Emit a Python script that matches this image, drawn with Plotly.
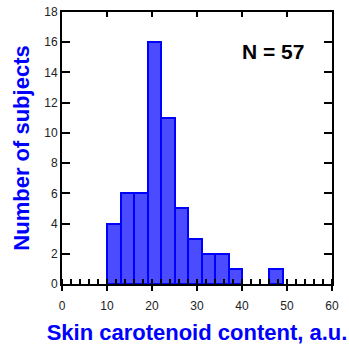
import plotly.graph_objects as go

bin_starts = [10, 13, 16, 19, 22, 25, 28, 31, 34, 37, 46]
counts = [4, 6, 6, 16, 11, 5, 3, 2, 2, 1, 1]
bin_width = 3
x_ticks = [0, 10, 20, 30, 40, 50, 60]
y_ticks = [0, 2, 4, 6, 8, 10, 12, 14, 16, 18]

FONT = "Liberation Sans, Arial, sans-serif"

fig = go.Figure()
fig.add_trace(go.Bar(
    x=bin_starts, y=counts, width=[bin_width] * len(bin_starts), offset=0,
    marker=dict(color="rgba(75,75,255,1)", line=dict(color="#0000ff", width=2)),
    showlegend=False, hoverinfo="skip",
))
fig.add_trace(go.Scatter(x=[None], y=[None], xaxis="x2", yaxis="y2", showlegend=False))

fig.update_layout(
    width=349, height=346,
    margin=dict(l=62, r=17, t=12, b=62),
    plot_bgcolor="white", paper_bgcolor="white",
    bargap=0,
    xaxis=dict(
        range=[0, 60], tickvals=x_ticks, ticks="outside", ticklen=5, tickwidth=2,
        tickcolor="black", showline=True, linecolor="black", linewidth=2,
        showgrid=False, zeroline=False, ticklabelstandoff=5, automargin=False,
        tickfont=dict(family=FONT, size=12, color="#222"),
        minor=dict(dtick=2, ticks="inside", ticklen=5, tickwidth=2, tickcolor="black", showgrid=False),
        title=dict(text="<b>Skin carotenoid content, a.u.</b>",
                   font=dict(family=FONT, size=22, color="#0000ff"), standoff=12),
    ),
    yaxis=dict(
        range=[0, 18], tickvals=y_ticks, ticks="inside", ticklen=8, tickwidth=2,
        tickcolor="black", showline=True, linecolor="black", linewidth=2, mirror="ticks",
        showgrid=False, zeroline=False, automargin=False,
        tickfont=dict(family=FONT, size=12, color="#222"),
        title=dict(text="<b>Number of subjects</b>",
                   font=dict(family=FONT, size=22, color="#0000ff"), standoff=9),
    ),
    xaxis2=dict(
        range=[0, 60], tickvals=x_ticks[1:-1], ticks="inside", ticklen=5, tickwidth=2,
        tickcolor="black", showline=True, linecolor="black", linewidth=2,
        overlaying="x", side="top", showticklabels=False, showgrid=False, zeroline=False,
        automargin=False,
    ),
    yaxis2=dict(range=[0, 18], overlaying="y", visible=False, automargin=False),
    annotations=[dict(
        x=0.78, y=0.855, xref="paper", yref="paper", text="<b>N = 57</b>",
        xanchor="center", yanchor="middle",
        showarrow=False, font=dict(family=FONT, size=21, color="black"),
    )],
)

fig.write_html("out.html")
